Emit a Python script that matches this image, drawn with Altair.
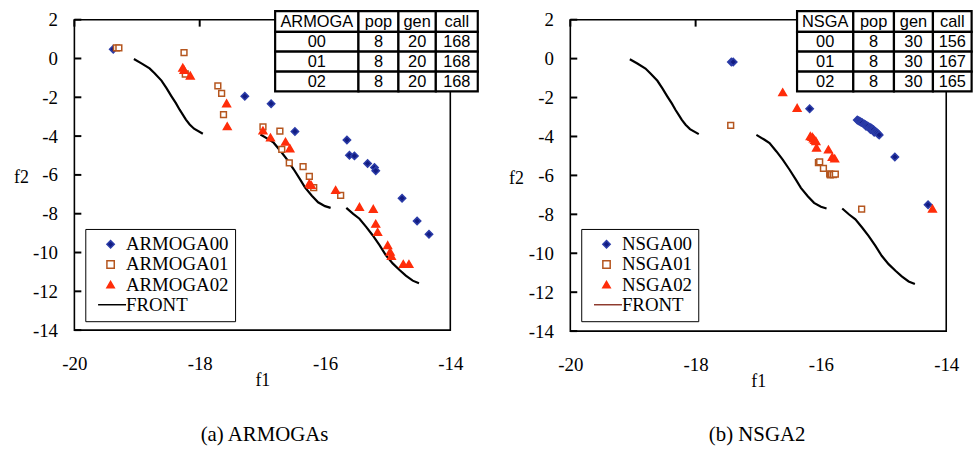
import altair as alt
import pandas as pd

# ---------------- objective values of each run ----------------
armoga00_f1 = [-19.38, -17.28, -16.86, -16.48, -15.65, -15.61, -15.53, -15.32, -15.21, -15.19, -14.77, -14.53, -14.34]
armoga00_f2 = [0.48, -1.95, -2.33, -3.76, -4.20, -4.99, -5.02, -5.41, -5.62, -5.79, -7.20, -8.38, -9.06]

armoga01_f1 = [-19.33, -19.29, -18.25, -18.23, -17.71, -17.65, -17.62, -16.99, -16.72, -16.69, -16.57, -16.35, -16.25, -16.18, -15.75]
armoga01_f2 = [0.55, 0.55, 0.30, -0.80, -1.41, -1.80, -2.89, -3.52, -3.74, -4.68, -5.38, -5.57, -6.08, -6.66, -7.05]

armoga02_f1 = [-18.27, -18.25, -18.15, -17.57, -17.56, -16.99, -16.87, -16.63, -16.56, -16.25, -16.22,
               -15.83, -15.45, -15.23, -15.19, -15.16, -15.00, -14.96, -14.94, -14.75, -14.66]
armoga02_f2 = [-0.47, -0.59, -0.88, -2.31, -3.49, -3.71, -4.07, -4.29, -4.63, -6.44, -6.52,
               -6.78, -7.65, -7.75, -8.52, -8.94, -9.62, -9.96, -10.18, -10.59, -10.59]

nsga00_f1 = [-17.43, -17.40, -16.18, -15.42, -15.40, -15.38, -15.36, -15.34, -15.31, -15.29, -15.28, -15.27,
             -15.25, -15.22, -15.21, -15.20, -15.18, -15.16, -15.15, -15.13, -15.11, -15.09, -15.07, -14.82, -14.29]
nsga00_f2 = [-0.17, -0.17, -2.58, -3.15, -3.19, -3.22, -3.27, -3.30, -3.36, -3.40, -3.48, -3.44,
             -3.47, -3.52, -3.64, -3.56, -3.62, -3.66, -3.78, -3.74, -3.80, -3.86, -3.92, -5.05, -7.51]

nsga01_f1 = [-17.44, -16.04, -16.02, -15.96, -15.86, -15.85, -15.83, -15.80, -15.77, -15.35]
nsga01_f2 = [-3.43, -5.34, -5.30, -5.64, -5.92, -5.97, -5.95, -5.96, -5.93, -7.73]

nsga02_f1 = [-16.61, -16.38, -16.17, -16.14, -16.12, -16.10, -16.08, -16.07, -15.88, -15.82, -15.78, -14.22]
nsga02_f2 = [-1.73, -2.53, -3.98, -4.02, -4.10, -4.18, -4.24, -4.57, -4.67, -5.05, -5.13, -7.71]

# ---------------- true Pareto front (three disconnected pieces) ----------------
front_seg = [1] * 14 + [2] * 12 + [3] * 12
front_f1 = [-19.05, -18.93, -18.80, -18.72, -18.61, -18.53, -18.45, -18.38, -18.32, -18.27, -18.22, -18.16, -18.09, -17.95,
            -17.03, -16.90, -16.82, -16.71, -16.61, -16.50, -16.40, -16.32, -16.21, -16.11, -16.00, -15.91,
            -15.66, -15.55, -15.45, -15.34, -15.24, -15.13, -15.03, -14.92, -14.81, -14.71, -14.60, -14.50]
front_f2 = [-0.03, -0.25, -0.51, -0.76, -1.14, -1.53, -1.95, -2.30, -2.64, -2.89, -3.15, -3.40, -3.62, -3.88,
            -3.92, -4.17, -4.34, -4.77, -5.19, -5.71, -6.22, -6.64, -7.07, -7.41, -7.61, -7.70,
            -7.70, -8.01, -8.26, -8.69, -9.11, -9.62, -10.13, -10.56, -10.90, -11.19, -11.45, -11.58]

# ---------------- run-settings tables ----------------
armoga_header = ["ARMOGA", "pop", "gen", "call"]
armoga_rows = [["00", "8", "20", "168"], ["01", "8", "20", "168"], ["02", "8", "20", "168"]]
nsga_header = ["NSGA", "pop", "gen", "call"]
nsga_rows = [["00", "8", "30", "156"], ["01", "8", "30", "167"], ["02", "8", "30", "165"]]

captions = ["(a) ARMOGAs", "(b) NSGA2"]
x_ticks = [-20, -18, -16, -14]
y_ticks = [2, 0, -2, -4, -6, -8, -10, -12, -14]

SERIF = "Liberation Serif"
SANS = "Liberation Sans"
PLOT_W = 379
SHAPES = ["diamond", "square", "triangle-up"]
SIZES = [55, 34, 60]
FILLS = ["#121c82", "white", "#ff2d0a"]
STROKES = ["#2b3ca8", "#b5561f", "#ff2d0a"]
# legend glyph for the front: a short horizontal stroke (the leading move widens the legend box)
FRONT_SYMBOL = "M-6.8,0M-3.4,0L4.2,0"
HYPHEN_LABELS = "replace(datum.label, '\u2212', '-')"


def table_cells(header, rows, x0, col_widths, y0=-8.7, row_heights=(21, 20, 20, 20)):
    recs = []
    all_rows = [header] + rows
    y = y0
    for r, row in enumerate(all_rows):
        x = x0
        for c, txt in enumerate(row):
            w = col_widths[c]
            h = row_heights[r]
            recs.append({"x0": x, "x1": x + w, "y0": y, "y1": y + h,
                         "xc": x + w / 2, "yc": y + h / 2 + 0.5, "text": txt})
            x += w
        y += row_heights[r]
    return pd.DataFrame(recs)


def panel(runs, header, rows, table_x, col_widths, caption, front_legend_color,
          plot_h, title_x, title_y, cap_x, cap_y):
    names = [n for n, _, _ in runs]
    domain = names + ["FRONT"]

    xscale = alt.Scale(domain=[-20, -14], nice=False, zero=False)
    yscale = alt.Scale(domain=[-14, 2], nice=False, zero=False)

    legend = alt.Legend(title=None, orient="none", legendX=11, legendY=211)

    x_axis = alt.Axis(values=x_ticks, title="f1", ticks=False, tickSize=0, domain=False, grid=False,
                      labelFont=SERIF, labelFontSize=19, labelColor="black", labelPadding=34,
                      labelBaseline="middle", labelFlush=False, labelOverlap=False,
                      labelExpr=HYPHEN_LABELS,
                      titleFont=SERIF, titleFontSize=18, titleFontWeight="normal", titleColor="black",
                      titleY=51, titleBaseline="middle")
    y_axis = alt.Axis(values=y_ticks, title="f2", ticks=False, tickSize=0, domain=False, grid=False,
                      labelFont=SERIF, labelFontSize=19, labelColor="black", labelPadding=17,
                      labelFlush=False, labelOverlap=False, labelExpr=HYPHEN_LABELS,
                      titleFont=SERIF, titleFontSize=18, titleFontWeight="normal", titleColor="black",
                      titleAngle=0, titleX=title_x, titleY=title_y, titleAlign="center",
                      titleBaseline="middle")

    front_df = pd.DataFrame({"f1": front_f1, "f2": front_f2, "seg": front_seg})
    front = alt.Chart(front_df).mark_line(color="black", strokeWidth=2.2).encode(
        x=alt.X("f1:Q", scale=xscale, axis=x_axis),
        y=alt.Y("f2:Q", scale=yscale, axis=y_axis),
        detail="seg:N",
    )

    # one point layer per run, all sharing the same shape/fill/stroke scales
    point_layers = []
    for (name, a, b), sz in zip(runs, SIZES):
        df = pd.DataFrame({"f1": a, "f2": b, "series": name})
        point_layers.append(
            alt.Chart(df).mark_point(size=sz, strokeWidth=1.5, opacity=1).encode(
                x=alt.X("f1:Q", scale=xscale, axis=x_axis),
                y=alt.Y("f2:Q", scale=yscale, axis=y_axis),
                shape=alt.Shape("series:N",
                                scale=alt.Scale(domain=domain, range=SHAPES + [FRONT_SYMBOL]),
                                legend=legend),
                fill=alt.Fill("series:N",
                              scale=alt.Scale(domain=domain, range=FILLS + ["transparent"]),
                              legend=legend),
                stroke=alt.Stroke("series:N",
                                  scale=alt.Scale(domain=domain, range=STROKES + [front_legend_color]),
                                  legend=legend),
            )
        )

    # inward ticks on the left frame and along the top frame
    yt = alt.Chart(pd.DataFrame({"ytick": y_ticks})).mark_tick(
        color="black", size=7, thickness=2, opacity=1, orient="horizontal").encode(
        y=alt.Y("ytick:Q", scale=yscale, axis=y_axis), x=alt.value(3.5))
    xt = alt.Chart(pd.DataFrame({"xtick": x_ticks})).mark_tick(
        color="black", size=7, thickness=2, opacity=1, orient="vertical").encode(
        x=alt.X("xtick:Q", scale=xscale, axis=x_axis), y=alt.value(3.5))

    cells = table_cells(header, rows, table_x, col_widths)
    rect = alt.Chart(cells).mark_rect(fill="white", stroke="black", strokeWidth=2.2).encode(
        x=alt.X("x0:Q", scale=None, axis=None), x2="x1:Q",
        y=alt.Y("y0:Q", scale=None, axis=None), y2="y1:Q")
    txt = alt.Chart(cells).mark_text(font=SANS, fontSize=16.5, color="black",
                                     align="center", baseline="middle").encode(
        x=alt.X("xc:Q", scale=None, axis=None),
        y=alt.Y("yc:Q", scale=None, axis=None),
        text="text:N")

    cap = alt.Chart(pd.DataFrame({"t": [caption]})).mark_text(
        font=SERIF, fontSize=21, color="black", align="center", baseline="middle").encode(
        text="t:N", x=alt.value(cap_x), y=alt.value(cap_y))

    layers = [front] + point_layers + [yt, xt, rect, txt, cap]
    return alt.layer(*layers).properties(width=PLOT_W, height=plot_h)


left = panel(
    [("ARMOGA00", armoga00_f1, armoga00_f2),
     ("ARMOGA01", armoga01_f1, armoga01_f2),
     ("ARMOGA02", armoga02_f1, armoga02_f2)],
    armoga_header, armoga_rows, 202.4, [84, 40.3, 37.7, 42.3], captions[0], "black",
    313, -53.8, 159, 191.7, 419)

right = panel(
    [("NSGA00", nsga00_f1, nsga00_f2),
     ("NSGA01", nsga01_f1, nsga01_f2),
     ("NSGA02", nsga02_f1, nsga02_f2)],
    nsga_header, nsga_rows, 228.6, [56.7, 41, 39.3, 39], captions[1], "#8e3b2e",
    314, -54.7, 160, 188.3, 418.5)

chart = alt.hconcat(left, right, spacing=28).resolve_scale(
    x="independent", y="independent", shape="independent", fill="independent", stroke="independent"
).resolve_legend(
    shape="independent", fill="independent", stroke="independent"
).properties(
    padding={"left": 12, "top": 7, "right": 0, "bottom": 0},
    background="white",
).configure_view(
    stroke="black", strokeWidth=1.6
).configure_legend(
    padding=6, symbolOffset=10, labelOffset=6, labelFont=SERIF, labelFontSize=19,
    labelColor="black", rowPadding=0.3, symbolSize=55, symbolStrokeWidth=1.5,
    strokeColor="black", fillColor="white", labelLimit=400, cornerRadius=0,
)

chart.save("out.html", embed_options={"renderer": "svg", "actions": False})
